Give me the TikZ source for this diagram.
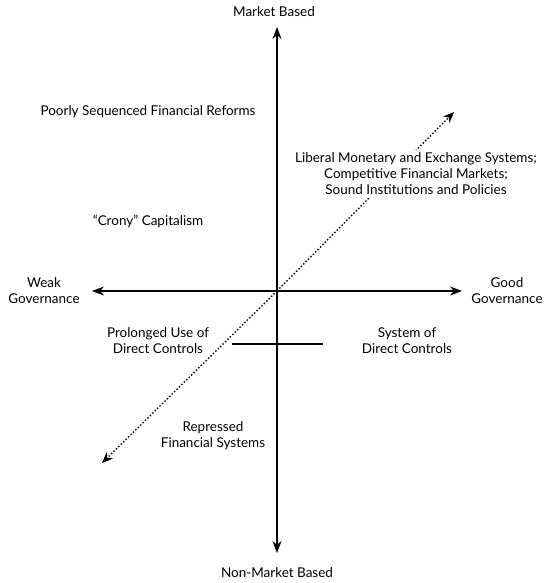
\documentclass[tikz,border=0pt]{standalone}
\usepackage{fontspec}
\setmainfont{Lato}
\usetikzlibrary{arrows.meta}
\tikzset{
  lbl/.style={align=center, inner sep=0pt, font=\fontsize{13.5}{16}\selectfont},
  axis/.style={line width=1.1pt, -{Stealth[length=12pt,width=9pt]}},
  dotarrow/.style={line width=1.4pt, dotted, -{Stealth[length=11pt,width=9pt]}},
}
\begin{document}
\begin{tikzpicture}[x=1pt,y=-1pt]
\useasboundingbox (0,0) rectangle (550,583);
\coordinate (O) at (277,291);
\coordinate (top) at (277,27);
\coordinate (bot) at (277,553);
\coordinate (left) at (92,291);
\coordinate (right) at (462,291);
\coordinate (dl) at (102,463);
\coordinate (du) at (454,112);
\coordinate (sl) at (232,344);
\coordinate (sr) at (323,344);
\draw[axis] (O) -- (top);
\draw[axis] (O) -- (bot);
\draw[axis] (O) -- (left);
\draw[axis] (O) -- (right);
\draw[line width=1.1pt] (sl) -- (sr);
\draw[dotarrow] (O) -- (du);
\draw[dotarrow] (O) -- (dl);
\node[lbl] (mb) at (274,12) {Market Based};
\node[lbl] (nmb) at (277,573) {Non-Market Based};
\node[lbl] (wg) at (44,291) {Weak\\Governance};
\node[lbl] (gg) at (507,291) {Good\\Governance};
\node[lbl] (ps) at (148,112) {Poorly Sequenced Financial Reforms};
\node[lbl, fill=white, inner sep=3pt] (lib) at (416,174) {Liberal Monetary and Exchange Systems;\\Competitive Financial Markets;\\Sound Institutions and Policies};
\node[lbl] (cc) at (148,221) {“Crony” Capitalism};
\node[lbl] (pu) at (158,341) {Prolonged Use of\\Direct Controls};
\node[lbl] (sd) at (407,341) {System of\\Direct Controls};
\node[lbl] (rf) at (213,436) {Repressed\\Financial Systems};
\end{tikzpicture}
\end{document}
